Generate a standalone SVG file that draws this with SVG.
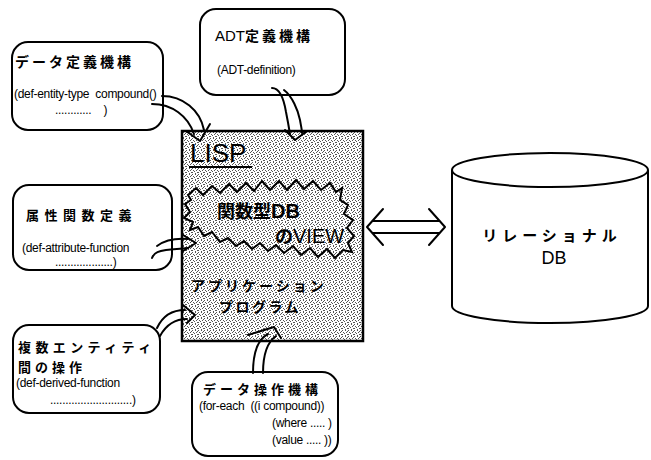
<svg xmlns="http://www.w3.org/2000/svg" width="651" height="460" viewBox="0 0 651 460">
<style>
.box{fill:#fff;stroke:#000;stroke-width:2}
.jp{font-family:"Noto Sans CJK JP","Liberation Sans",sans-serif;font-weight:bold;fill:#000}
.code{font-family:"Liberation Sans","Noto Sans CJK JP",sans-serif;font-size:12px;letter-spacing:-0.3px;fill:#000;white-space:pre}
.con{fill:none;stroke:#000;stroke-width:2;stroke-linecap:round;stroke-linejoin:round}
</style>
<defs>
<pattern id="stip" width="6" height="6" patternUnits="userSpaceOnUse">
<rect width="6" height="6" fill="#fff"/>
<g fill="#555">
<rect x="0" y="0" width="1" height="1"/><rect x="3" y="0" width="1" height="1"/>
<rect x="5" y="1" width="1" height="1"/><rect x="1" y="2" width="1" height="1"/>
<rect x="4" y="2" width="1" height="1"/><rect x="2" y="3" width="1" height="1"/>
<rect x="0" y="4" width="1" height="1"/><rect x="5" y="4" width="1" height="1"/>
<rect x="3" y="5" width="1" height="1"/>
</g>
</pattern>
</defs>

<g id="data-def">
<rect class="box" x="12" y="42" width="151" height="88" rx="16"/>
<text class="jp" x="15" y="67" font-size="14" letter-spacing="3">データ定義機構</text>
<text class="code" x="14" y="98">(def-entity-type  compound()</text>
<text class="code" x="55" y="114">............    )</text>
</g>

<g id="adt-def">
<rect class="box" x="200" y="9" width="145" height="86" rx="16"/>
<text class="jp" x="215" y="41" font-size="14"><tspan font-family="Liberation Sans" font-weight="normal" font-size="15">ADT</tspan><tspan letter-spacing="3">定義機構</tspan></text>
<text class="code" x="217" y="74" font-size="11">(ADT-definition)</text>
</g>

<g id="attr-func">
<rect class="box" x="13" y="185" width="159" height="85" rx="16"/>
<text class="jp" x="26" y="220" font-size="13" letter-spacing="5.5">属性関数定義</text>
<text class="code" x="22" y="252">(def-attribute-function</text>
<text class="code" x="55" y="266">...................)</text>
</g>

<g id="multi-entity">
<rect class="box" x="13" y="325" width="147" height="88" rx="16"/>
<text class="jp" x="18" y="352" font-size="13" letter-spacing="4.4">複数エンティティ</text>
<text class="jp" x="18" y="372" font-size="13" letter-spacing="4">間の操作</text>
<text class="code" x="16" y="387">(def-derived-function</text>
<text class="code" x="50" y="404">...........................)</text>
</g>

<g id="data-op">
<rect class="box" x="192" y="372" width="146" height="84" rx="16"/>
<text class="jp" x="203" y="394" font-size="13" letter-spacing="4">データ操作機構</text>
<text class="code" x="199" y="410" font-size="11.5">(for-each  ((i compound))</text>
<text class="code" x="272" y="427" font-size="11">(where ..... )</text>
<text class="code" x="272" y="444" font-size="11">(value ..... ))</text>
</g>

<g id="lisp">
<rect x="182" y="131" width="181" height="210" fill="url(#stip)" stroke="#000" stroke-width="2.5"/>
<text x="190" y="162" font-family="Liberation Sans" font-size="26" fill="#000">LISP</text>
<line x1="189" y1="167" x2="252" y2="167" stroke="#000" stroke-width="2"/>
<polygon fill="url(#stip)" stroke="#000" stroke-width="2" stroke-linejoin="miter" points="188,195 196,188 203,195 212,186 220,193 229,184 237,192 246,183 254,191 262,181 270,190 279,181 287,190 296,180 304,189 313,181 321,190 330,183 336,192 342,188 340,200 348,205 344,214 353,220 347,228 354,236 348,243 352,252 343,250 335,258 327,249 318,257 310,248 301,255 293,246 284,253 276,245 268,251 260,243 252,249 244,241 236,246 228,238 220,242 212,232 204,236 198,227 190,230 193,222 184,218 190,212 185,204 191,200"/>
<text class="jp" x="217" y="218" font-size="18">関数型<tspan font-family="Liberation Sans" font-size="20" font-weight="bold">DB</tspan></text>
<text class="jp" x="275" y="243" font-size="18">の<tspan font-family="Liberation Sans" font-size="20" font-weight="normal">VIEW</tspan></text>
<text class="jp" x="191" y="291" font-size="14" letter-spacing="3">アプリケーション</text>
<text class="jp" x="219" y="312" font-size="14" letter-spacing="2.5">プログラム</text>
</g>

<g id="relational-db">
<path d="M452,170 L452,306 A98,17 0 0 0 648,306 L648,170" fill="#fff" stroke="#000" stroke-width="2"/>
<ellipse cx="550" cy="170" rx="98" ry="17" fill="#fff" stroke="#000" stroke-width="2"/>
<text class="jp" x="552" y="241" font-size="15" letter-spacing="5" text-anchor="middle">リレーショナル</text>
<text x="554" y="264" font-family="Liberation Sans" font-size="18" text-anchor="middle" fill="#000">DB</text>
</g>

<g id="connectors">
<path class="con" d="M162,96 C183,96 200,110 204,130"/>
<path class="con" d="M152,104 C172,104 188,116 194,134"/>
<path class="con" d="M186,131 L200,141 L210,124"/>

<path class="con" d="M272,88 C280,88 284,100 286,112 C288,122 289,128 290,134"/>
<path class="con" d="M284,90 C292,96 298,110 300,120 C301,126 302,130 302,133"/>
<path class="con" d="M285,130 L295,140 L307,131"/>

<path class="con" d="M157,246 C165,240 175,238 188,239"/>
<path class="con" d="M152,258 C154,252 160,251 166,250 C175,249 180,249 188,248"/>
<path class="con" d="M183,235 L196,243 L183,251"/>

<path class="con" d="M157,328 C163,315 172,310 185,310"/>
<path class="con" d="M160,336 C166,325 175,319 187,319"/>
<path class="con" d="M183,305 L195,315 L187,323"/>

<path class="con" d="M253,373 C253,355 256,340 268,334"/>
<path class="con" d="M263,373 C263,356 266,343 276,336"/>
<path class="con" d="M248,335 L274,327 L281,338"/>

<path class="con" d="M373,221 L439,221 M373,233 L439,233"/>
<path class="con" d="M383,209 L367,227 L383,245"/>
<path class="con" d="M429,209 L445,227 L429,245"/>
</g>
</svg>
